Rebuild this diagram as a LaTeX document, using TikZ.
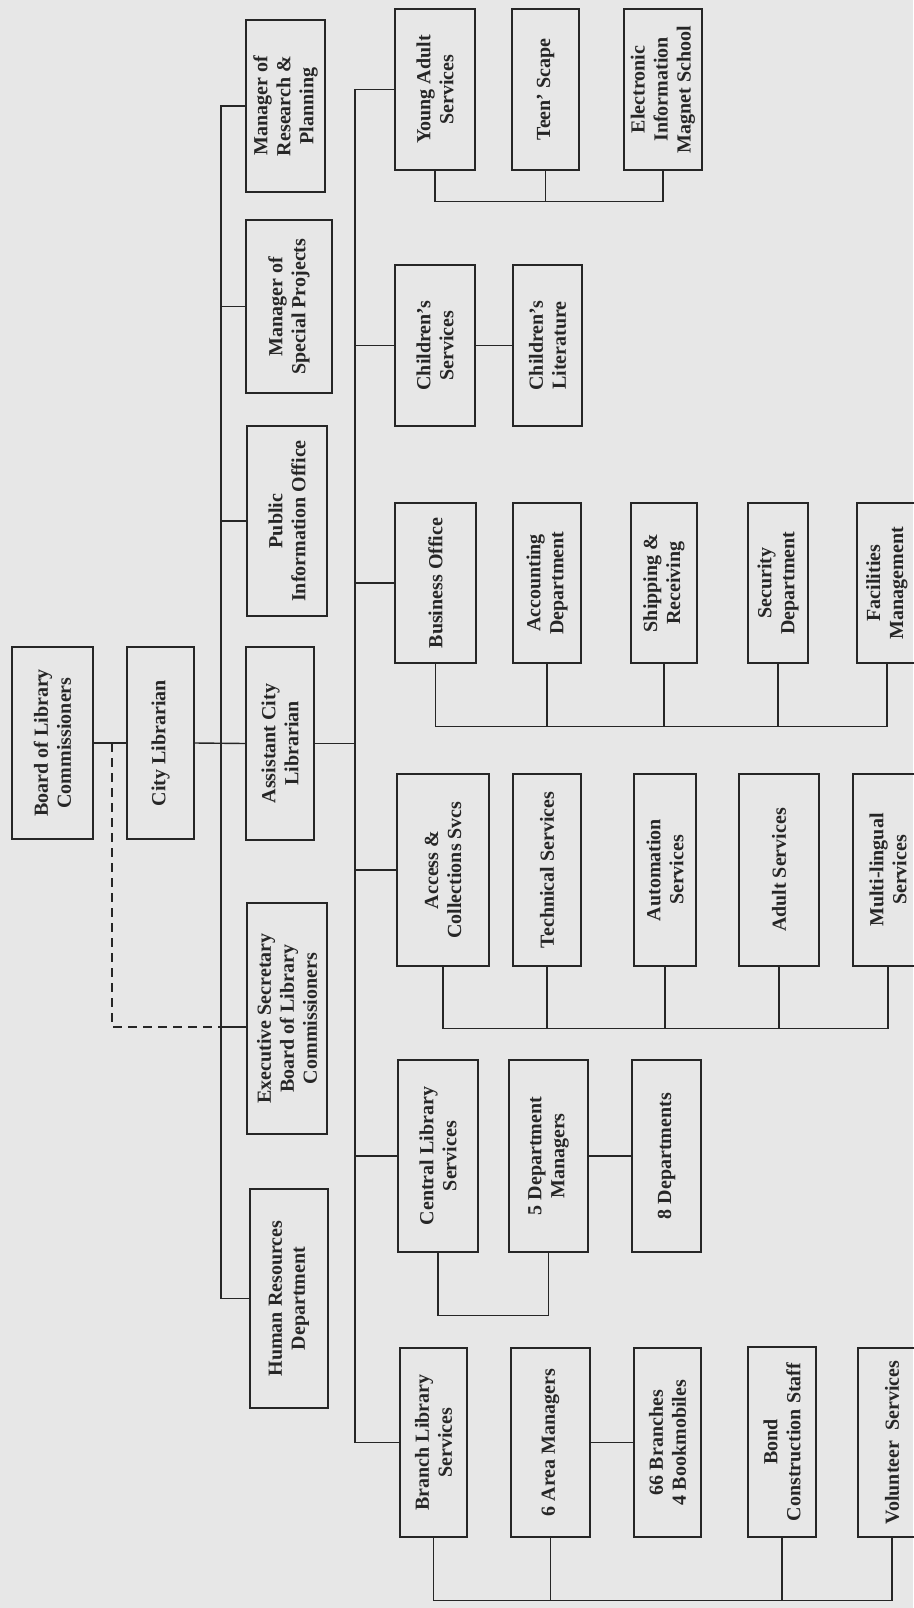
\documentclass[tikz,border=0pt]{standalone}
\usepackage{fontspec}
\setmainfont{Liberation Serif}
\definecolor{paper}{RGB}{231,231,231}
\definecolor{ink}{RGB}{38,38,38}

\begin{document}
\begin{tikzpicture}[x=1pt,y=-1pt,
    box/.style={draw=ink, line width=1.4pt, rotate=90, inner sep=0pt, align=center, text=ink,
        font=\bfseries\fontsize{20}{23}\selectfont},
    link/.style={draw=ink, line width=1.4pt}]
    \fill[paper] (0,0) rectangle (913,1608);
    \useasboundingbox (0,0) rectangle (913,1608);
    \coordinate (trunk) at (221,0);
    \coordinate (trunkb) at (355,0);
    \coordinate (dash) at (112,1027);

    \node[box, minimum width=192pt, minimum height=81pt] (board) at (52.5,743) {Board of Library\\Commissioners};
    \node[box, minimum width=192pt, minimum height=67pt] (city) at (160.5,743) {City Librarian};

    \node[box, minimum width=172pt, minimum height=79pt] (research) at (285.5,106) {Manager of\\Research \&\\Planning};
    \node[box, minimum width=173pt, minimum height=86pt] (special) at (289,306.5) {Manager of\\Special Projects};
    \node[box, minimum width=190pt, minimum height=80pt] (public) at (287,521) {Public\\Information Office};
    \node[box, minimum width=193pt, minimum height=68pt] (assist) at (280,743.5) {Assistant City\\Librarian};
    \node[box, minimum width=231pt, minimum height=80pt] (secretary) at (287,1018.5) {Executive Secretary\\Board of Library\\Commissioners};
    \node[box, minimum width=219pt, minimum height=78pt] (human) at (289,1298.5) {Human Resources\\Department};

    \node[box, minimum width=161pt, minimum height=80pt] (young) at (435,89.5) {Young Adult\\Services};
    \node[box, minimum width=161pt, minimum height=67pt] (teen) at (545.5,89.5) {Teen' Scape};
    \node[box, minimum width=161pt, minimum height=78pt] (magnet) at (663,89.5) {Electronic\\Information\\Magnet School};

    \node[box, minimum width=161pt, minimum height=80pt] (children) at (435,345.5) {Children's\\Services};
    \node[box, minimum width=161pt, minimum height=69pt] (literature) at (547.5,345.5) {Children's\\Literature};

    \node[box, minimum width=160pt, minimum height=81pt] (business) at (435.5,583) {Business Office};
    \node[box, minimum width=160pt, minimum height=68pt] (accounting) at (547,583) {Accounting\\Department};
    \node[box, minimum width=160pt, minimum height=66pt] (shipping) at (664,583) {Shipping \&\\Receiving};
    \node[box, minimum width=160pt, minimum height=60pt] (security) at (778,583) {Security\\Department};
    \node[box, minimum width=160pt, minimum height=60pt] (facilities) at (887,583) {Facilities\\Management};

    \node[box, minimum width=192pt, minimum height=92pt] (access) at (443,870) {Access \&\\Collections Svcs};
    \node[box, minimum width=192pt, minimum height=68pt] (technical) at (547,870) {Technical Services};
    \node[box, minimum width=192pt, minimum height=62pt] (automation) at (665,870) {Automation\\Services};
    \node[box, minimum width=192pt, minimum height=80pt] (adult) at (779,870) {Adult Services};
    \node[box, minimum width=192pt, minimum height=70pt] (multi) at (888,870) {Multi-lingual\\Services};

    \node[box, minimum width=192pt, minimum height=80pt] (central) at (438,1156) {Central Library\\Services};
    \node[box, minimum width=192pt, minimum height=79pt] (deptmgr) at (548.5,1156) {5 Department\\Managers};
    \node[box, minimum width=192pt, minimum height=69pt] (depts) at (666.5,1156) {8 Departments};

    \node[box, minimum width=189pt, minimum height=67pt] (branch) at (433.5,1442.5) {Branch Library\\Services};
    \node[box, minimum width=189pt, minimum height=79pt] (areamgr) at (550.5,1442.5) {6 Area Managers};
    \node[box, minimum width=189pt, minimum height=67pt] (branches) at (667.5,1442.5) {66 Branches\\4 Bookmobiles};
    \node[box, minimum width=190pt, minimum height=68pt] (bond) at (782,1442) {Bond\\Construction Staff};
    \node[box, minimum width=189pt, minimum height=68pt] (volunteer) at (892,1442.5) {Volunteer\ \ Services};

    \draw[link] (board.south) -- (city.north);
    \draw[link] (city.south) -- (assist.north);
    \draw[link, dashed, dash pattern=on 9pt off 6pt] (board.south -| dash) -- (dash) -- (dash -| trunk);
    \draw[link] (research.north) -- (research.north -| trunk) |- (human.north);
    \draw[link] (special.north) -- (special.north -| trunk);
    \draw[link] (public.north) -- (public.north -| trunk);
    \draw[link] (dash -| trunk) -- (dash -| secretary.north);

    \draw[link] (assist.south) -- (assist.south -| trunkb);
    \draw[link] (young.north) -- (young.north -| trunkb) |- (branch.north);
    \draw[link] (children.north) -- (children.north -| trunkb);
    \draw[link] (business.north) -- (business.north -| trunkb);
    \draw[link] (access.north) -- (access.north -| trunkb);
    \draw[link] (central.north) -- (central.north -| trunkb);

    \draw[link] (young.west) -- ++(0,31) -| (magnet.west);
    \draw[link] (teen.west) -- ++(0,31);
    \draw[link] (children.south) -- (literature.north);

    \draw[link] (business.west) -- ++(0,63) -| (facilities.west);
    \draw[link] (accounting.west) -- ++(0,63);
    \draw[link] (shipping.west) -- ++(0,63);
    \draw[link] (security.west) -- ++(0,63);

    \draw[link] (access.west) -- ++(0,62) -| (multi.west);
    \draw[link] (technical.west) -- ++(0,62);
    \draw[link] (automation.west) -- ++(0,62);
    \draw[link] (adult.west) -- ++(0,62);

    \draw[link] (central.west) -- ++(0,63) -| (deptmgr.west);
    \draw[link] (deptmgr.south) -- (depts.north);

    \draw[link] (branch.west) -- ++(0,63) -| (volunteer.west);
    \draw[link] (areamgr.west) -- ++(0,63);
    \draw[link] (bond.west) -- ++(0,63);
    \draw[link] (areamgr.south) -- (branches.north);
\end{tikzpicture}
\end{document}
